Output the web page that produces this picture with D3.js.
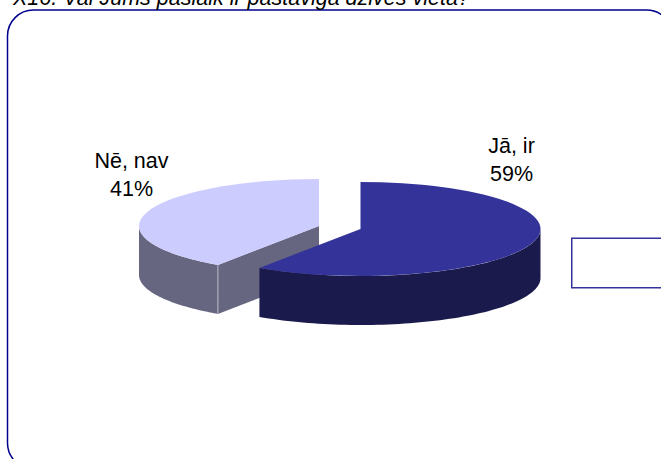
<!DOCTYPE html>
<html><head><meta charset="utf-8">
<script src="https://cdn.jsdelivr.net/npm/d3@7"></script>
<style>html,body{margin:0;padding:0;background:#fff;overflow:hidden}svg{display:block}text{font-family:"Liberation Sans",Arial,sans-serif}</style>
</head><body><svg id="c" width="661" height="459"></svg>
<script>
const categories = ["Jā, ir", "Nē, nav"];
const values = [59.49, 40.51];
const labels = ["59%", "41%"];
const topColors = ["#333399", "#CCCCFF"];
const sideColors = ["#1A1A4D", "#666680"];
const title = "X16. Vai Jums pašlaik ir pastāvīga dzīves vieta?";

const svg = d3.select("#c");
const rx = 180, ry = 47, depth = 49;
const centers = [[360.5, 229], [319, 226]];
const labelPos = [[511.5, 153], [131.5, 168]];

svg.append("rect").attr("x", 7.5).attr("y", 10).attr("width", 665).attr("height", 459)
  .attr("rx", 26).attr("ry", 26).attr("fill", "#fff").attr("stroke", "#000090").attr("stroke-width", 1.5);

svg.append("text").attr("x", 13).attr("y", 4.5).attr("font-size", 21.5).attr("font-style", "italic").attr("fill", "#000").text(title);

svg.append("rect").attr("x", 571.75).attr("y", 238.25).attr("width", 120).attr("height", 49.5)
  .attr("fill", "#fff").attr("stroke", "#333399").attr("stroke-width", 1.5);

const arcs = d3.pie().sort(null)(values);
const pt = (c, a, dy = 0) => [c[0] + rx * Math.sin(a), c[1] - ry * Math.cos(a) + dy];
const line = d3.line();
const sweep = (c, a0, a1, dy) => d3.range(0, 73).map(i => pt(c, a0 + (a1 - a0) * i / 72, dy));
const arcGen = d3.arc().innerRadius(0).outerRadius(rx);

[1, 0].forEach(i => {
  const d = arcs[i], c = centers[i];
  const a0 = d.startAngle, a1 = d.endAngle;
  const g = svg.append("g");
  if (i === 1) {
    const apex = c, rim = pt(c, a0), face = [apex, rim, [rim[0], rim[1] + depth], [apex[0], apex[1] + depth]];
    g.append("path").attr("d", line(face) + "Z").attr("fill", sideColors[i]);
    const vis0 = a0, vis1 = 1.5 * Math.PI;
    const wall = sweep(c, vis0, vis1, 0).concat(sweep(c, vis1, vis0, depth));
    g.append("path").attr("d", line(wall) + "Z").attr("fill", sideColors[i]);
    g.append("path").attr("d", line([rim, [rim[0], rim[1] + depth]])).attr("stroke", "#b8b8c8").attr("stroke-width", 1).attr("fill", "none");
  } else {
    const vis0 = Math.PI / 2, vis1 = a1;
    const wall = sweep(c, vis0, vis1, 0).concat(sweep(c, vis1, vis0, depth));
    g.append("path").attr("d", line(wall) + "Z").attr("fill", sideColors[i]);
  }
  g.append("path").attr("d", arcGen(d))
    .attr("transform", `translate(${c[0]},${c[1]}) scale(1,${ry / rx})`).attr("fill", topColors[i]);
});

categories.forEach((name, i) => {
  const t = svg.append("text").attr("text-anchor", "middle").attr("font-size", 21.5).attr("fill", "#000");
  t.append("tspan").attr("x", labelPos[i][0]).attr("y", labelPos[i][1]).text(name);
  t.append("tspan").attr("x", labelPos[i][0]).attr("y", labelPos[i][1] + 27.5).text(labels[i]);
});
</script></body></html>
